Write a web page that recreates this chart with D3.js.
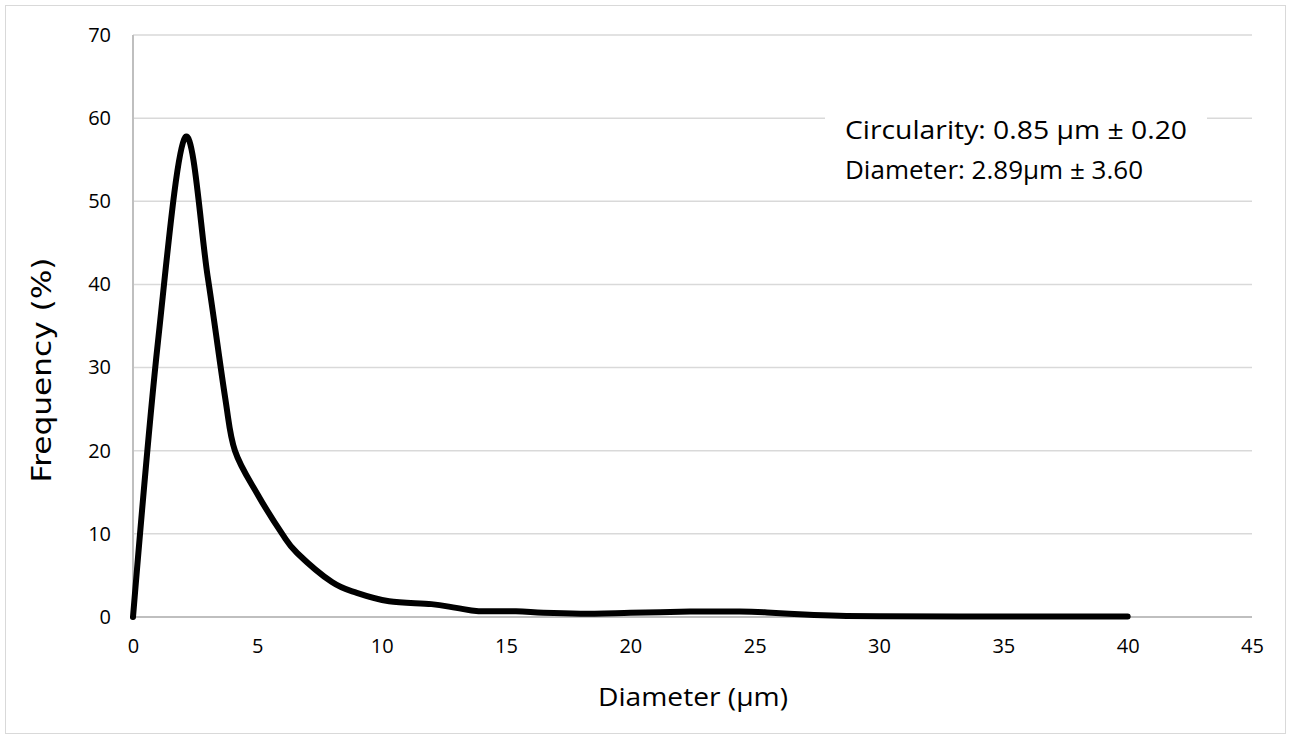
<!DOCTYPE html>
<html><head><meta charset="utf-8">
<script src="https://cdn.jsdelivr.net/npm/d3@7"></script>
<style>body{margin:0;background:#fff;} svg{display:block;}</style>
</head><body>
<svg id="c" width="1292" height="740"></svg>
<script>
const diameters = [0, 1, 2.1, 3, 3.7, 4.1, 5, 6, 6.6, 8, 9, 10.3, 12, 13, 13.9, 15.4, 16.5, 18, 20, 22.4, 24.4, 25.5, 27, 28.4, 30, 35, 40];
const frequencies = [0, 33, 57.7, 41, 26.5, 20, 14.8, 10, 7.7, 4.2, 2.9, 1.9, 1.55, 1.1, 0.7, 0.7, 0.5, 0.4, 0.5, 0.65, 0.65, 0.55, 0.3, 0.15, 0.1, 0.05, 0.05];
const xTicks = [0, 5, 10, 15, 20, 25, 30, 35, 40, 45];
const yTicks = [0, 10, 20, 30, 40, 50, 60, 70];
const annotationLines = ["Circularity: 0.85 µm ± 0.20", "Diameter: 2.89µm ± 3.60"];
const xTitle = "Diameter (µm)";
const yTitle = "Frequency (%)";

const m = {left: 133, right: 1252, top: 35, bottom: 617};
const font = "'Open Sans', 'Noto Sans', sans-serif";
const svg = d3.select("#c");

svg.append("rect").attr("x", 5.5).attr("y", 5.5).attr("width", 1280).attr("height", 728)
  .attr("fill", "#fff").attr("stroke", "#d9d9d9").attr("stroke-width", 1);

const x = d3.scaleLinear().domain([0, 45]).range([m.left, m.right]);
const y = d3.scaleLinear().domain([0, 70]).range([m.bottom, m.top]);

// gridlines
svg.append("g").selectAll("line").data(yTicks.filter(d => d > 0)).join("line")
  .attr("x1", m.left).attr("x2", m.right)
  .attr("y1", d => y(d)).attr("y2", d => y(d))
  .attr("stroke", "#d9d9d9").attr("stroke-width", 1.5);

// axes lines
svg.append("line").attr("x1", m.left).attr("x2", m.left).attr("y1", m.top).attr("y2", m.bottom)
  .attr("stroke", "#bfbfbf").attr("stroke-width", 2);
svg.append("line").attr("x1", m.left).attr("x2", m.right).attr("y1", y(0)).attr("y2", y(0))
  .attr("stroke", "#bfbfbf").attr("stroke-width", 2);

// x tick labels
const xAxis = d3.axisBottom(x).tickValues(xTicks).tickSize(0).tickPadding(0);
const gx = svg.append("g").attr("transform", `translate(0,${m.bottom + 22})`).call(xAxis);
gx.select(".domain").remove();
gx.selectAll("text").attr("font-family", font).attr("font-size", 20).attr("fill", "#000").attr("dy", "0.71em");

// y tick labels
const yAxis = d3.axisLeft(y).tickValues(yTicks).tickSize(0).tickPadding(0);
const gy = svg.append("g").attr("transform", `translate(${m.left - 22},0)`).call(yAxis);
gy.select(".domain").remove();
gy.selectAll("text").attr("font-family", font).attr("font-size", 20).attr("fill", "#000");

// axis titles
svg.append("text").attr("x", 693).attr("y", 706)
  .attr("text-anchor", "middle").attr("font-family", font).attr("font-size", 26).attr("fill", "#000")
  .attr("textLength", 190).attr("lengthAdjust", "spacingAndGlyphs").text(xTitle);
svg.append("text").attr("transform", `translate(51,370) rotate(-90)`)
  .attr("text-anchor", "middle").attr("font-family", "'DejaVu Sans', sans-serif").attr("font-size", 26).attr("fill", "#000")
  .attr("textLength", 225).attr("lengthAdjust", "spacingAndGlyphs").text(yTitle);

// line
const pts = diameters.map((d, i) => [d, frequencies[i]]);
const line = d3.line().x(d => x(d[0])).y(d => y(d[1])).curve(d3.curveCardinal.tension(0));
svg.append("path").attr("d", line(pts)).attr("fill", "none").attr("stroke", "#000")
  .attr("stroke-width", 6).attr("stroke-linejoin", "round").attr("stroke-linecap", "round");

// annotation
svg.append("rect").attr("x", 825).attr("y", 104).attr("width", 382).attr("height", 86).attr("fill", "#fff");
svg.append("g").selectAll("text").data(annotationLines).join("text")
  .attr("x", 845).attr("y", (d, i) => 139 + i * 40)
  .attr("font-family", font).attr("font-size", 26).attr("fill", "#000")
  .attr("textLength", (d, i) => i === 0 ? 342 : 298).attr("lengthAdjust", "spacingAndGlyphs")
  .text(d => d);
</script>
</body></html>
